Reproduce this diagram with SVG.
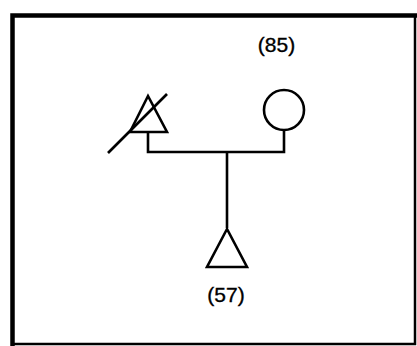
<svg xmlns="http://www.w3.org/2000/svg" width="417" height="346" viewBox="0 0 417 346">
<style>
.s{fill:none;stroke:#000;stroke-width:2.6}
.t{font-family:"Liberation Sans",Arial,sans-serif;font-size:21px;fill:#000;stroke:#000;stroke-width:0.35;text-anchor:middle}
</style>
<rect x="0" y="0" width="417" height="346" fill="#fff"/>
<path d="M12.5,346 V15.5 H417" fill="none" stroke="#000" stroke-width="4.5"/>
<path d="M415,15 V344 H12" fill="none" stroke="#000" stroke-width="2.5"/>
<g id="connectors">
<path class="s" d="M148,132 V152 H284 V130"/>
<path class="s" d="M227,152 V228"/>
</g>
<g id="node-left">
<polygon class="s" points="148,96 130,132 167,132"/>
<line class="s" x1="108" y1="153" x2="167" y2="94"/>
</g>
<g id="node-circle">
<circle class="s" cx="284" cy="110" r="20"/>
<text class="t" x="276.5" y="52">(85)</text>
</g>
<g id="node-bottom">
<polygon class="s" points="227,229 207,267 247,267"/>
<text class="t" x="226" y="302">(57)</text>
</g>
</svg>
